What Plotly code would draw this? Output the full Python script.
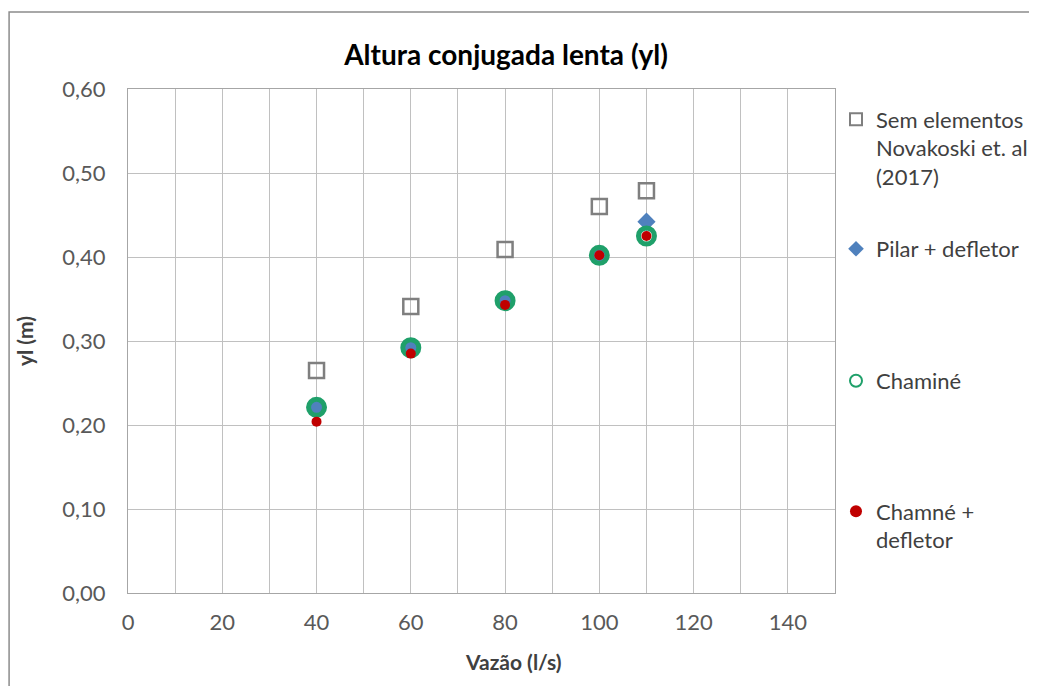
import plotly.graph_objects as go

# ---- data ----
vazao = [40, 60, 80, 100, 110]
sem_elementos = [0.265, 0.341, 0.409, 0.460, 0.479]
pilar_defletor = [0.221, 0.293, 0.348, 0.402, 0.442]
chamine = [0.221, 0.292, 0.348, 0.402, 0.425]
chamne_defletor = [0.204, 0.285, 0.343, 0.402, 0.425]

names = ["Sem elementos<br>Novakoski et. al<br>(2017)", "Pilar + defletor", "Chaminé", "Chamné +<br>defletor"]
x_ticks = [0, 20, 40, 60, 80, 100, 120, 140]

FONT = "Lato"
OFF = 8  # page body margin
W, H = 1037, 686
# target plot area on screen: x 128..837, y 89..593
L, T = 128 - OFF, 89 - OFF
PW, PH = 709, 504
R = W - L - PW
B = H - T - PH

def px_x(p):
    return (p - OFF - L) / PW

def px_y(p):
    return (T + PH - (p - OFF)) / PH

fig = go.Figure()
fig.add_trace(go.Scatter(
    x=vazao, y=sem_elementos, mode="markers", name=names[0], legend="legend", showlegend=True,
    marker=dict(symbol="square-open", size=15, color="#7f7f7f", line=dict(width=2.5, color="#7f7f7f")),
))
fig.add_trace(go.Scatter(
    x=vazao, y=pilar_defletor, mode="markers", name=names[1], legend="legend2", showlegend=True,
    marker=dict(symbol="diamond", size=14, color="#4F81BD"),
))
fig.add_trace(go.Scatter(
    x=vazao, y=chamine, mode="markers", name=names[2], legend="legend3", showlegend=True,
    marker=dict(symbol="circle-open", size=16, color="#1FA06A", line=dict(width=5, color="#1FA06A")),
))
fig.add_trace(go.Scatter(
    x=vazao, y=chamne_defletor, mode="markers", name=names[3], legend="legend4", showlegend=True,
    marker=dict(symbol="circle", size=10, color="#C00000"),
))

legfont = dict(family=FONT, size=22, color="#404040")
lx = px_x(838)
common = dict(x=lx, xanchor="left", yanchor="middle", valign="top", font=legfont,
              bgcolor="rgba(0,0,0,0)", itemsizing="constant", itemwidth=30)

fig.update_layout(
    width=W, height=H,
    margin=dict(l=L, r=R, t=T, b=B),
    showlegend=True,
    paper_bgcolor="white", plot_bgcolor="white",
    separators=",.",
    font=dict(family=FONT, color="#595959"),
    title=dict(text="<b>Altura conjugada lenta (yl)</b>", x=(506 - OFF) / W, xref="container", xanchor="center",
               y=1 - (55 - OFF) / H, yref="container", yanchor="middle",
               font=dict(family=FONT, size=28, color="#000000")),
    legend=dict(y=px_y(148), **common),
    legend2=dict(y=px_y(249), **common),
    legend3=dict(y=px_y(381), **common),
    legend4=dict(y=px_y(526), **common),
    xaxis=dict(range=[0, 150], tickvals=x_ticks,
               showgrid=True, gridcolor="#c0c0c0", gridwidth=1,
               showline=True, linecolor="#a6a6a6", mirror=True, zeroline=False,
               tickfont=dict(family=FONT, size=22, color="#595959"), ticklabelstandoff=10),
    yaxis=dict(range=[0, 0.6], dtick=0.1, tickformat=".2f",
               showgrid=True, gridcolor="#c0c0c0", gridwidth=1,
               showline=True, linecolor="#a6a6a6", mirror=True, zeroline=False,
               tickfont=dict(family=FONT, size=22, color="#595959"), ticklabelstandoff=17,
               title=dict(text="<b>yl (m)</b>", standoff=22,
                          font=dict(family=FONT, size=21, color="#404040"))),
    annotations=[dict(text="<b>Vazão (l/s)</b>", xref="paper", yref="paper",
                      x=px_x(515), y=px_y(661), xanchor="center", yanchor="middle",
                      showarrow=False, font=dict(family=FONT, size=21, color="#404040"))],
)

# minor vertical grid every 10
fig.update_xaxes(minor=dict(dtick=10, showgrid=True, gridcolor="#c0c0c0", gridwidth=1))

# outer chart border
fig.add_shape(type="rect", xref="paper", yref="paper",
              x0=(0.75 - L) / PW, x1=px_x(1060), y0=px_y(710), y1=px_y(12),
              line=dict(color="#8c8c8c", width=1.5), fillcolor="rgba(0,0,0,0)", layer="below")

fig.write_html("out.html")
